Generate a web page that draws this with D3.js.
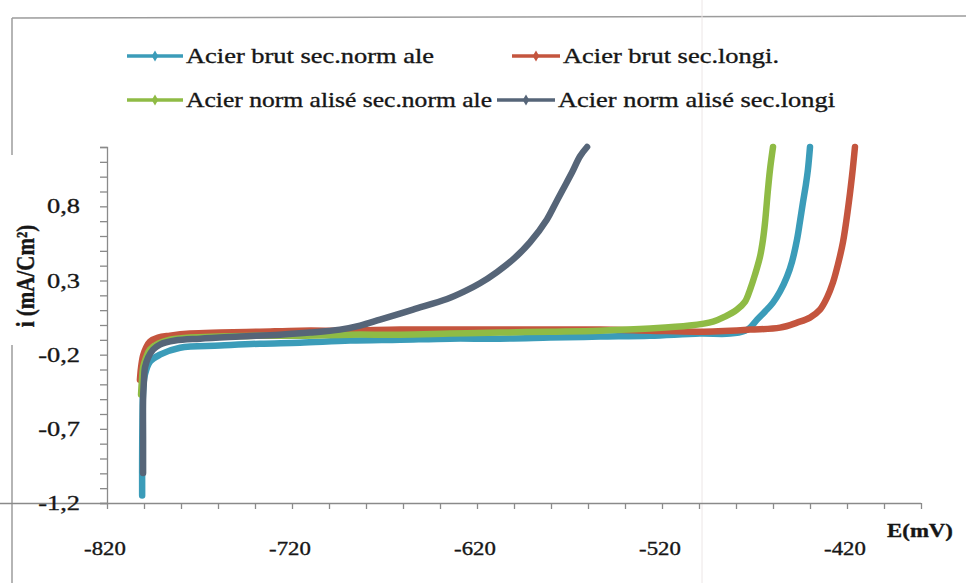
<!DOCTYPE html>
<html>
<head>
<meta charset="utf-8">
<script src="https://cdn.jsdelivr.net/npm/d3@7"></script>
<style>
  html, body { margin: 0; padding: 0; background: #ffffff; }
  svg { display: block; }
  text { font-family: "Liberation Serif", "Times New Roman", serif; fill: #161616; stroke: #161616; stroke-width: 0.35; }
</style>
</head>
<body>
<svg id="chart" width="966" height="583"></svg>
<script>
// Polarisation curves: potential E (mV) against current density i (mA/Cm²)
const seriesNames = [
  "Acier brut sec.norm ale",
  "Acier brut sec.longi.",
  "Acier norm alisé sec.norm ale",
  "Acier norm alisé sec.longi"
];
const seriesColors = ["#3b9cb9", "#c4553e", "#8fbb45", "#566578"];

const xTickLabels = [-820, -720, -620, -520, -420];
const yTickLabels = [0.8, 0.3, -0.2, -0.7, -1.2];

// [E (mV), i (mA/Cm²)]
const brutNormale = [
  [-801.0, -1.15], [-801.0, -0.90], [-800.8, -0.60], [-800.4, -0.42], [-799.5, -0.335],
  [-796.8, -0.247], [-791.4, -0.20], [-780.5, -0.153], [-758.9, -0.139], [-737.3, -0.126],
  [-715.7, -0.119], [-688.6, -0.105], [-661.6, -0.099], [-634.6, -0.092], [-607.6, -0.092],
  [-580.5, -0.085], [-553.5, -0.078], [-526.5, -0.072], [-499.5, -0.058], [-483.2, -0.058],
  [-475.1, -0.038], [-472.4, -0.018], [-468.6, 0.036], [-464.3, 0.091], [-460.0, 0.151],
  [-456.2, 0.226], [-452.4, 0.327], [-449.7, 0.428], [-447.0, 0.577], [-445.4, 0.699],
  [-443.8, 0.827], [-442.2, 0.949], [-441.1, 1.05], [-440.0, 1.20]
];
const brutLongi = [
  [-802.2, -0.369], [-801.6, -0.288], [-800.5, -0.207], [-798.9, -0.153], [-796.8, -0.112],
  [-792.4, -0.085], [-786.0, -0.072], [-775.1, -0.058], [-758.9, -0.051], [-737.3, -0.045],
  [-715.7, -0.038], [-688.6, -0.038], [-661.6, -0.031], [-634.6, -0.031], [-607.6, -0.031],
  [-580.5, -0.031], [-553.5, -0.031], [-526.5, -0.038], [-499.5, -0.045], [-472.4, -0.031],
  [-456.2, -0.018], [-447.0, 0.016], [-440.0, 0.05], [-434.6, 0.104], [-430.8, 0.185],
  [-427.6, 0.286], [-424.9, 0.408], [-422.2, 0.557], [-419.5, 0.78], [-417.3, 1.003],
  [-415.7, 1.20]
];
const normaliseNormale = [
  [-801.6, -0.47], [-801.1, -0.369], [-800.5, -0.288], [-798.9, -0.22], [-796.8, -0.166],
  [-792.4, -0.126], [-786.0, -0.099], [-775.1, -0.085], [-758.9, -0.078], [-737.3, -0.072],
  [-715.7, -0.072], [-688.6, -0.065], [-661.6, -0.065], [-634.6, -0.058], [-607.6, -0.051],
  [-580.5, -0.045], [-553.5, -0.038], [-526.5, -0.024], [-505.1, -0.004], [-492.4, 0.023],
  [-485.9, 0.057], [-479.5, 0.104], [-475.1, 0.158], [-472.4, 0.239], [-469.7, 0.341],
  [-467.0, 0.462], [-465.4, 0.577], [-464.3, 0.692], [-462.7, 0.915], [-461.6, 1.05],
  [-460.0, 1.20]
];
const normaliseLongi = [
  [-800.5, -0.997], [-800.5, -0.774], [-800.5, -0.504], [-800.0, -0.369], [-799.5, -0.288],
  [-797.8, -0.22], [-795.1, -0.166], [-791.4, -0.132], [-783.2, -0.105], [-769.7, -0.092],
  [-748.1, -0.078], [-726.5, -0.065], [-710.3, -0.051], [-694.1, -0.031], [-683.2, -0.004],
  [-672.4, 0.036], [-654.6, 0.104], [-636.2, 0.175], [-626.5, 0.228], [-618.4, 0.281],
  [-609.2, 0.357], [-600.5, 0.442], [-591.4, 0.557], [-582.2, 0.712], [-577.8, 0.814],
  [-573.5, 0.915], [-568.6, 1.03], [-564.3, 1.138], [-560.5, 1.20]
];

const seriesData = [brutNormale, brutLongi, normaliseNormale, normaliseLongi];

const svg = d3.select("#chart");
const stretch = 1.2; // horizontal widening of the serif glyphs

const x = d3.scaleLinear().domain([-820, -380]).range([107, 921]);
const y = d3.scaleLinear().domain([-1.2, 1.2]).range([503, 147]);

// outer frame of the chart area
const frame = svg.append("g").attr("stroke", "#9c9c9c").attr("stroke-width", 1.5).attr("fill", "none");
frame.append("line").attr("x1", 12).attr("y1", 18).attr("x2", 966).attr("y2", 16);
frame.append("line").attr("x1", 12).attr("y1", 18).attr("x2", 12).attr("y2", 155);
frame.append("line").attr("x1", 12).attr("y1", 345).attr("x2", 12).attr("y2", 583);
svg.append("line").attr("x1", 702).attr("y1", 0).attr("x2", 702).attr("y2", 583)
  .attr("stroke", "#ece6e6").attr("stroke-width", 1);

// axes: ticks only, labels drawn separately
const axisColor = "#8a8a8a";
const yAxis = svg.append("g").attr("transform", "translate(107,0)")
  .call(d3.axisLeft(y).tickValues(d3.range(-12, 13).map(v => v / 10)).tickSize(7).tickFormat(""));
const xAxis = svg.append("g").attr("transform", "translate(0,503)")
  .call(d3.axisBottom(x).tickValues(d3.range(-820, -379, 20)).tickSize(6).tickFormat(""));
[yAxis, xAxis].forEach(g => {
  g.selectAll("path,line").attr("stroke", axisColor).attr("stroke-width", 1.3);
});
xAxis.select(".domain").attr("d", "M-7,0.5H921");

function stretchedText(sel, tx, ty, str, anchor, size, weight) {
  return sel.append("text")
    .attr("transform", `translate(${tx},${ty}) scale(${stretch},1)`)
    .attr("text-anchor", anchor)
    .attr("font-size", size)
    .attr("font-weight", weight || "normal")
    .text(str);
}

const fmt = v => d3.format(".1f")(v).replace(".", ",").replace("−", "-");
yTickLabels.forEach(v => stretchedText(svg, 80, y(v) + 7, fmt(v), "end", 22));
xTickLabels.forEach(v => stretchedText(svg, x(v) - 2, 555, String(v), "middle", 19));

// axis titles
stretchedText(svg, 920, 537, "E(mV)", "middle", 19, "bold");
svg.append("text")
  .attr("transform", `translate(34,276) scale(${stretch},1) rotate(-90)`)
  .attr("text-anchor", "middle")
  .attr("font-size", 21)
  .attr("font-weight", "bold")
  .text("i (mA/Cm²)");

// curves
const line = d3.line().curve(d3.curveCatmullRom.alpha(0.5)).x(d => x(d[0])).y(d => y(d[1]));
seriesData.forEach((data, k) => {
  svg.append("path")
    .datum(data)
    .attr("d", line)
    .attr("fill", "none")
    .attr("stroke", seriesColors[k])
    .attr("stroke-width", 6.5)
    .attr("stroke-linejoin", "round")
    .attr("stroke-linecap", "round");
});

// legend
const legendRows = [
  { k: 0, x1: 127, x2: 183, ly: 56, w: 248 },
  { k: 1, x1: 512, x2: 560, ly: 56, w: 216 },
  { k: 2, x1: 127, x2: 183, ly: 100, w: 306 },
  { k: 3, x1: 497, x2: 555, ly: 100, w: 277 }
];
const legend = svg.append("g");
legendRows.forEach(r => {
  legend.append("line")
    .attr("x1", r.x1).attr("x2", r.x2).attr("y1", r.ly).attr("y2", r.ly)
    .attr("stroke", seriesColors[r.k]).attr("stroke-width", 3.5);
  legend.append("path")
    .attr("d", d3.symbol(d3.symbolDiamond, 36)())
    .attr("transform", `translate(${(r.x1 + r.x2) / 2},${r.ly})`)
    .attr("fill", seriesColors[r.k]);
  legend.append("text")
    .attr("x", r.x2 + 3).attr("y", r.ly + 7)
    .attr("font-size", 22)
    .attr("textLength", r.w)
    .attr("lengthAdjust", "spacingAndGlyphs")
    .text(seriesNames[r.k]);
});
</script>
</body>
</html>
